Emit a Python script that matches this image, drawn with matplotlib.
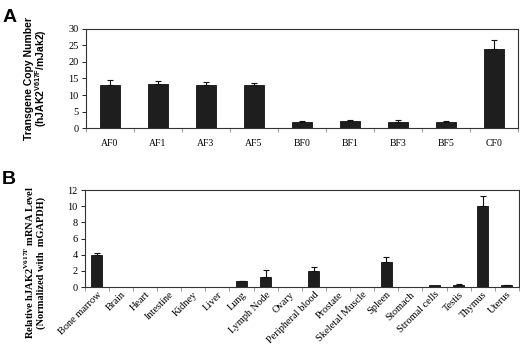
import matplotlib
matplotlib.use("Agg")
import matplotlib.pyplot as plt
import numpy as np

# Panel A data
a_labels = ["AF0", "AF1", "AF3", "AF5", "BF0", "BF1", "BF3", "BF5", "CF0"]
a_values = [13.0, 13.2, 12.9, 12.9, 1.9, 2.1, 1.9, 1.9, 24.0]
a_err = [1.5, 0.9, 0.9, 0.7, 0.2, 0.2, 0.4, 0.2, 2.7]
a_yticks = [0, 5, 10, 15, 20, 25, 30]

# Panel B data
b_labels = ["Bone marrow", "Brain", "Heart", "Intestine", "Kidney", "Liver", "Lung",
            "Lymph Node", "Ovary", "Peripheral blood", "Prostate", "Skeletal Muscle",
            "Spleen", "Stomach", "Stromal cells", "Testis", "Thymus", "Uterus"]
b_values = [4.0, 0.05, 0.05, 0.05, 0.02, 0.02, 0.72, 1.25, 0.05, 2.05, 0.02, 0.02,
            3.1, 0.05, 0.25, 0.3, 10.05, 0.2]
b_err = [0.25, 0.0, 0.0, 0.0, 0.0, 0.0, 0.08, 0.85, 0.0, 0.45, 0.0, 0.0,
         0.65, 0.0, 0.0, 0.05, 1.2, 0.05]
b_yticks = [0, 2, 4, 6, 8, 10, 12]

serif = ["Liberation Serif", "DejaVu Serif"]
sans = ["Liberation Sans", "DejaVu Sans"]

plt.rcParams["mathtext.fontset"] = "custom"
plt.rcParams["mathtext.bf"] = "Liberation Serif:bold"
plt.rcParams["mathtext.sf"] = "Liberation Sans:bold"
plt.rcParams["mathtext.rm"] = "Liberation Serif"

fig = plt.figure(figsize=(5.2, 3.48), dpi=100)

def style_axes(ax, n):
    ax.set_xlim(-0.5, n - 0.5)
    ax.set_xticks(np.arange(n))
    ax.tick_params(axis="x", length=0, pad=8)
    ax.set_xticks(np.arange(n + 1) - 0.5, minor=True)
    ax.tick_params(axis="x", which="minor", length=3, direction="out", color="#888888")
    ax.tick_params(axis="y", length=3, direction="out", width=0.6, pad=2)
    for s in ax.spines.values():
        s.set_linewidth(0.8)
        s.set_color("#333333")

# Panel A
axA = fig.add_axes([0.165, 0.632, 0.831, 0.285])
xa = np.arange(len(a_labels))
axA.bar(xa, a_values, width=0.42, color="#1e1e1e", edgecolor="#111111", linewidth=0.6,
        zorder=2)
axA.errorbar(xa, a_values, yerr=[np.zeros(len(a_err)), a_err], fmt="none",
             ecolor="#111111", elinewidth=0.8, capsize=2.5, capthick=0.8, zorder=3)
axA.set_ylim(0, 30)
axA.set_yticks(a_yticks)
style_axes(axA, len(a_labels))
axA.set_xticklabels(a_labels, fontfamily=serif, fontsize=7)
for t in axA.get_yticklabels():
    t.set_fontfamily(serif)
    t.set_fontsize(7.5)
axA.set_ylabel("Transgene Copy Number\n(hJAK2$^{\\mathsf{V617F}}$/mJak2)", fontfamily=sans,
               fontweight="bold", fontsize=7.5, linespacing=0.95)
axA.yaxis.set_label_coords(-0.085, 0.5)
fig.text(0.005, 0.975, "A", fontfamily=sans, fontweight="bold", fontsize=14, va="top")

# Panel B
axB = fig.add_axes([0.163, 0.175, 0.835, 0.279])
xb = np.arange(len(b_labels))
axB.bar(xb, b_values, width=0.45, color="#1e1e1e", edgecolor="#111111", linewidth=0.6,
        zorder=2)
mask = np.array(b_err) > 0
axB.errorbar(xb[mask], np.array(b_values)[mask],
             yerr=[np.zeros(mask.sum()), np.array(b_err)[mask]], fmt="none",
             ecolor="#111111", elinewidth=0.8, capsize=2.5, capthick=0.8, zorder=3)
axB.set_ylim(0, 12)
axB.set_yticks(b_yticks)
style_axes(axB, len(b_labels))
axB.tick_params(axis="x", pad=2)
axB.set_xticklabels(b_labels, fontfamily=serif, fontsize=7.5, rotation=45,
                    ha="right", rotation_mode="anchor")
for t in axB.get_yticklabels():
    t.set_fontfamily(serif)
    t.set_fontsize(7.5)
axB.set_ylabel("Relative hJAK2$^{\\mathbf{V617F}}$ mRNA Level\n(Normalized with  mGAPDH)",
               fontfamily=serif, fontweight="bold", fontsize=7.5, linespacing=1.05)
axB.yaxis.set_label_coords(-0.09, 0.25)
fig.text(0.003, 0.51, "B", fontfamily=sans, fontweight="bold", fontsize=14, va="top")

fig.savefig("out.png", dpi=100)
